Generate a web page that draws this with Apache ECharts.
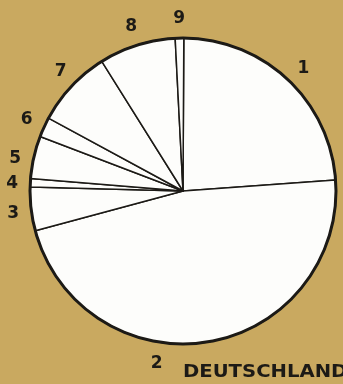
<!DOCTYPE html>
<html><head><meta charset="utf-8">
<script src="https://cdn.jsdelivr.net/npm/echarts@6/dist/echarts.min.js"></script>
<style>html,body{margin:0;padding:0;background:#c9a960;}#c{width:343px;height:384px;}</style>
</head><body><div id="c"></div>
<script>
const categories = ['1','2','3','4','5','6','7','8','9'];
const values = [23.8, 47.0, 4.6, 0.9, 4.5, 2.1, 8.2, 8.1, 0.9];
const titleText = 'DEUTSCHLAND';

const chart = echarts.init(document.getElementById('c'), null, {renderer:'canvas'});
const center = [183, 191];
const dark = '#1c1a16';
// small label nudges (layout only)
const labelNudge = {'1':[3,3], '2':[-55,3], '3':[1,2], '4':[1,2], '5':[0,6], '7':[3,-2]};
const mainData = categories.map((c,i)=>({name:c, value:values[i]}));
const labelData = categories.map((c,i)=>{
  const d = {name:c, value:values[i]};
  if (labelNudge[c]) d.label = {offset:labelNudge[c]};
  return d;
});
chart.setOption({
  backgroundColor:'#c9a960',
  animation:false,
  graphic:[{type:'text', x:183, y:363, scaleX:1.09, silent:true,
    style:{text:titleText, font:'bold 18px "DejaVu Sans"', fill:dark, textAlign:'left', textVerticalAlign:'top'}}],
  series:[
    {type:'pie', center, radius:[0,153], startAngle:89.7, clockwise:true, silent:true,
     avoidLabelOverlap:false, label:{show:false}, labelLine:{show:false},
     itemStyle:{color:'#fdfdfb', borderColor:dark, borderWidth:1.5},
     data:mainData},
    {type:'pie', center, radius:[151.5,154.5], silent:true, label:{show:false}, labelLine:{show:false},
     itemStyle:{color:dark, borderWidth:0}, data:[{value:1,name:'ring'}]},
    {type:'pie', center, radius:[159,179], startAngle:89.7, clockwise:true, silent:true,
     avoidLabelOverlap:false, labelLine:{show:false},
     itemStyle:{color:'rgba(0,0,0,0)', borderWidth:0},
     label:{show:true, position:'inside', formatter:'{b}', fontFamily:'DejaVu Sans', fontWeight:'bold', fontSize:17, color:dark},
     data:labelData}
  ]
});
</script></body></html>
